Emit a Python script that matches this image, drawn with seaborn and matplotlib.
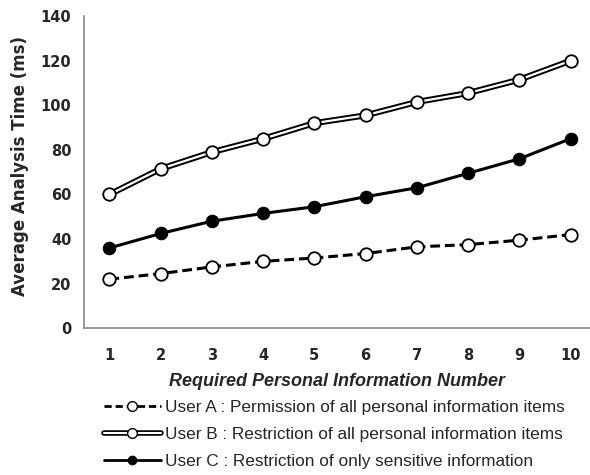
import pandas as pd
import seaborn as sns
import matplotlib.pyplot as plt
from matplotlib.lines import Line2D

# data
items = [1, 2, 3, 4, 5, 6, 7, 8, 9, 10]
user_a = [22, 24.5, 27.5, 30, 31.5, 33.5, 36.5, 37.5, 39.5, 42]
user_b = [60, 71.5, 79, 85, 92, 95.5, 101.5, 105.5, 111.5, 120]
user_c = [36, 42.5, 48, 51.5, 54.5, 59, 63, 69.5, 76, 85]
labels = ["User A : Permission of all personal information items",
          "User B : Restriction of all personal information items",
          "User C : Restriction of only sensitive information"]

df = pd.DataFrame({"n": items, "A": user_a, "B": user_b, "C": user_c})

sns.set_style("white")
plt.rcParams["font.family"] = ["Liberation Sans", "DejaVu Sans"]

fig = plt.figure(figsize=(5.9, 4.75), dpi=100)
ax = fig.add_axes([0.142, 0.309, 0.858, 0.657])

# User A: dashed with open markers
sns.lineplot(data=df, x="n", y="A", ax=ax, color="black", linewidth=2.2,
             linestyle=(0, (3.2, 1.6)), marker="o", markersize=9,
             markerfacecolor="white", markeredgecolor="black",
             markeredgewidth=1.3, zorder=3)
# User B: double line (thick black under thin white) with open markers
sns.lineplot(data=df, x="n", y="B", ax=ax, color="black", linewidth=4.4, zorder=3)
sns.lineplot(data=df, x="n", y="B", ax=ax, color="white", linewidth=1.6,
             marker="o", markersize=9, markerfacecolor="white",
             markeredgecolor="black", markeredgewidth=1.3, zorder=4)
# User C: solid with filled markers
sns.lineplot(data=df, x="n", y="C", ax=ax, color="black", linewidth=2.2,
             marker="o", markersize=9, markerfacecolor="black",
             markeredgecolor="black", zorder=3)

ax.set_xlim(0.5, 10.38)
ax.set_ylim(0, 140)
ax.set_yticks(range(0, 141, 20))
ax.set_xticks(items)
ax.set_xticks([i + 0.5 for i in range(0, 10)], minor=True)
ax.tick_params(axis="x", which="major", length=0, pad=14)
ax.tick_params(axis="x", which="minor", direction="in", length=4,
               color="#888888", width=1)
ax.tick_params(axis="y", direction="out", length=5, color="#888888",
               width=1, pad=4)
for lab in ax.get_xticklabels() + ax.get_yticklabels():
    lab.set_fontweight("bold")
    lab.set_family("DejaVu Sans")
    lab.set_fontsize(10.5)

for s in ["top", "right"]:
    ax.spines[s].set_visible(False)
for s in ["left", "bottom"]:
    ax.spines[s].set_color("#888888")
    ax.spines[s].set_linewidth(1.2)

ax.set_xlabel("Required Personal Information Number", fontsize=13,
              fontweight="bold", fontstyle="italic")
ax.set_ylabel("Average Analysis Time (ms)", fontsize=12, family="DejaVu Sans",
              fontweight="bold")
ax.xaxis.set_label_coords(0.5, -0.145)
ax.yaxis.set_label_coords(-0.108, 0.52)

# legend below the plot
h_a = Line2D([], [], color="black", linewidth=2, linestyle=(0, (2.6, 1.4)),
             marker="o", markersize=7, markerfacecolor="white",
             markeredgecolor="black")
h_b1 = Line2D([], [], color="black", linewidth=4)
h_b2 = Line2D([], [], color="white", linewidth=1.5, marker="o", markersize=7,
              markerfacecolor="white", markeredgecolor="black")
h_c = Line2D([], [], color="black", linewidth=2, marker="o", markersize=6,
             markerfacecolor="black", markeredgecolor="black")
fig.legend([h_a, (h_b1, h_b2), h_c], labels, loc="upper left",
           bbox_to_anchor=(0.176, 0.158), frameon=False, fontsize=12.4,
           handlelength=3.3, handletextpad=0.25, labelspacing=0.7,
           borderaxespad=0, borderpad=0)

plt.savefig("out.png", dpi=100)
